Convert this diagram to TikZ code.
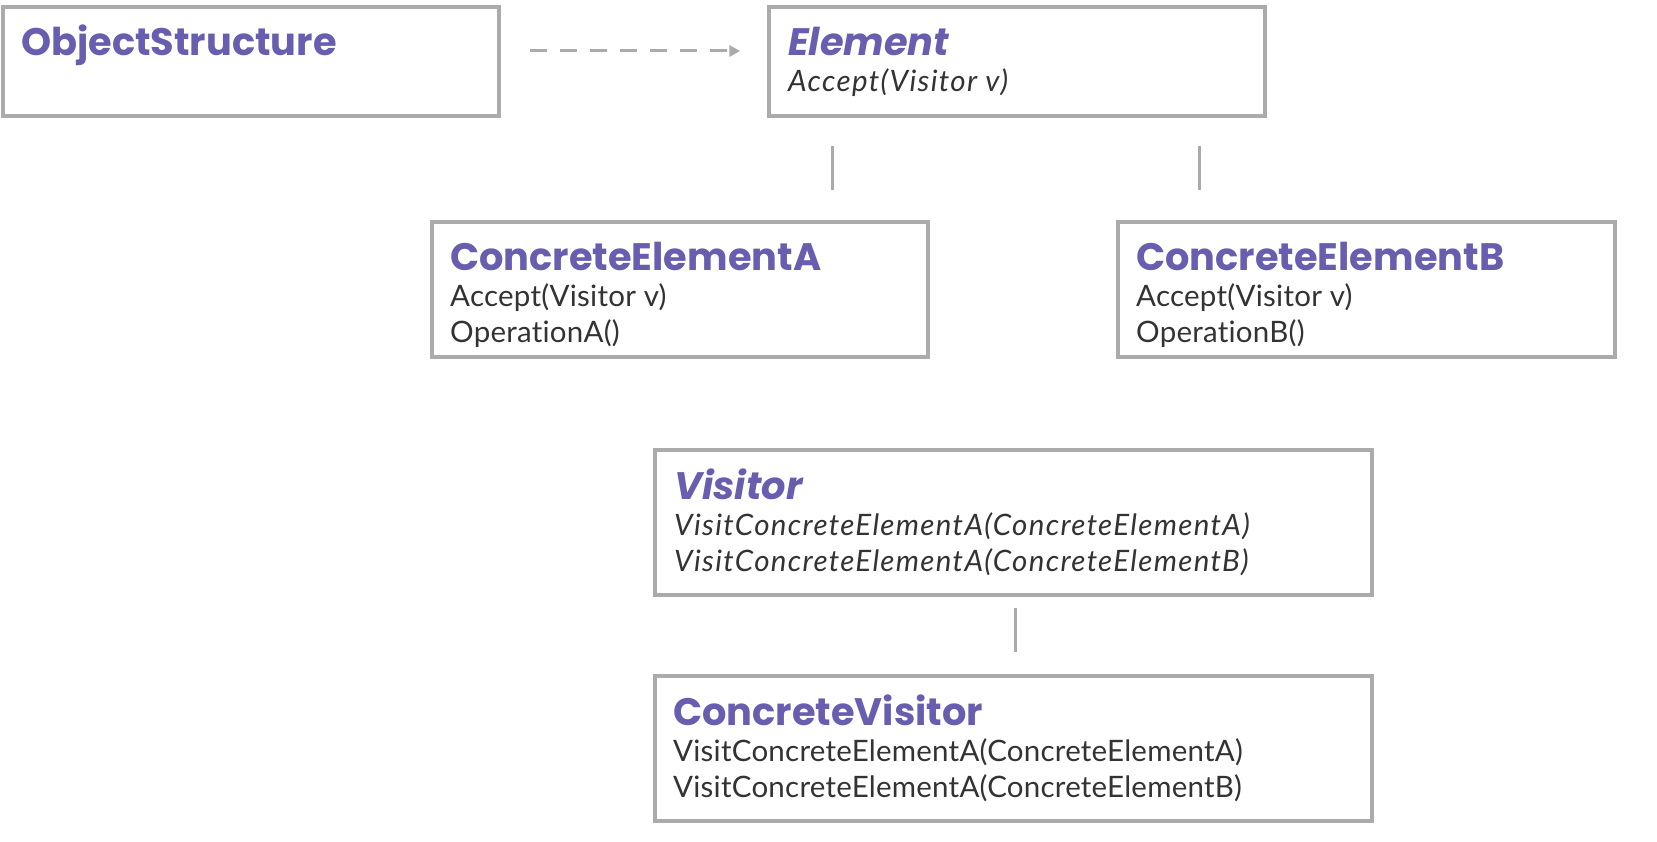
\documentclass[tikz,border=0pt]{standalone}
\usepackage{fontspec}
\setmainfont{Lato}[Ligatures=NoCommon, LetterSpace=0.8, ItalicFeatures={LetterSpace=4.5}]
\newfontfamily\titlefont{Poppins}
\usetikzlibrary{arrows.meta,calc}
\definecolor{umlpurple}{RGB}{104,94,175}
\definecolor{umlgray}{RGB}{171,171,171}
\definecolor{umltext}{RGB}{51,51,51}
\tikzset{
  umlbox/.style={draw=umlgray, line width=3.5pt, rectangle, inner sep=0pt, fill=white},
  umltitle/.style={anchor=base west, inner sep=0pt, text=umlpurple, font=\titlefont\bfseries\fontsize{38.3}{45}\selectfont},
  umltitleit/.style={umltitle, font=\titlefont\bfseries\itshape\fontsize{38.3}{45}\selectfont},
  umlop/.style={anchor=base west, inner sep=0pt, text=umltext, font=\fontsize{29.5}{35}\selectfont},
  umlopit/.style={umlop, font=\itshape\fontsize{29.5}{35}\selectfont},
  umlline/.style={draw=umlgray, line width=3pt},
  umldash/.style={umlline, dash pattern=on 17pt off 13pt, -{Triangle[length=11pt,width=11pt]}}
}
\begin{document}
\begin{tikzpicture}[x=1pt,y=-1pt]
\useasboundingbox (0,0) rectangle (1657,842);
% boxes
\node[umlbox, minimum width=496pt, minimum height=109pt] (os) at (251,61.5) {};
\node[umlbox, minimum width=496pt, minimum height=109pt] (el) at (1017,61.5) {};
\node[umlbox, minimum width=496pt, minimum height=135pt] (cea) at (680,289.5) {};
\node[umlbox, minimum width=497pt, minimum height=135pt] (ceb) at (1366.5,289.5) {};
\node[umlbox, minimum width=717pt, minimum height=145pt] (vis) at (1013.5,522.5) {};
\node[umlbox, minimum width=717pt, minimum height=145pt] (cv) at (1013.5,748.5) {};
% texts
\node[umltitle] (osT) at (21,56) {ObjectStructure};
\node[umltitleit] (elT) at (788,56) {Element};
\node[umlopit] (elM1) at (788,92) {Accept(Visitor v)};
\node[umltitle] (ceaT) at (450,270.5) {ConcreteElementA};
\node[umlop] (ceaM1) at (450,306.5) {Accept(Visitor v)};
\node[umlop] (ceaM2) at (450,342) {OperationA()};
\node[umltitle] (cebT) at (1136,270.5) {ConcreteElementB};
\node[umlop] (cebM1) at (1136,306.5) {Accept(Visitor v)};
\node[umlop] (cebM2) at (1136,342) {OperationB()};
\node[umltitleit] (visT) at (674,499) {Visitor};
\node[umlopit] (visM1) at (674,535) {VisitConcreteElementA(ConcreteElementA)};
\node[umlopit] (visM2) at (674,571) {VisitConcreteElementA(ConcreteElementB)};
\node[umltitle] (cvT) at (673,725) {ConcreteVisitor};
\node[umlop] (cvM1) at (673,761) {VisitConcreteElementA(ConcreteElementA)};
\node[umlop] (cvM2) at (673,797) {VisitConcreteElementA(ConcreteElementB)};
% connectors
\coordinate (dashS) at ($(os.east)+(29,-10.5)$);
\coordinate (dashE) at ($(el.west)+(-27,-10.5)$);
\draw[umldash] (dashS) -- (dashE);
\coordinate (lA1) at (832,146);
\coordinate (lA2) at (832,190);
\draw[umlline] (lA1) -- (lA2);
\coordinate (lB1) at (1199,146);
\coordinate (lB2) at (1199,190);
\draw[umlline] (lB1) -- (lB2);
\coordinate (lV1) at (1015,608);
\coordinate (lV2) at (1015,652);
\draw[umlline] (lV1) -- (lV2);
\end{tikzpicture}
\end{document}
